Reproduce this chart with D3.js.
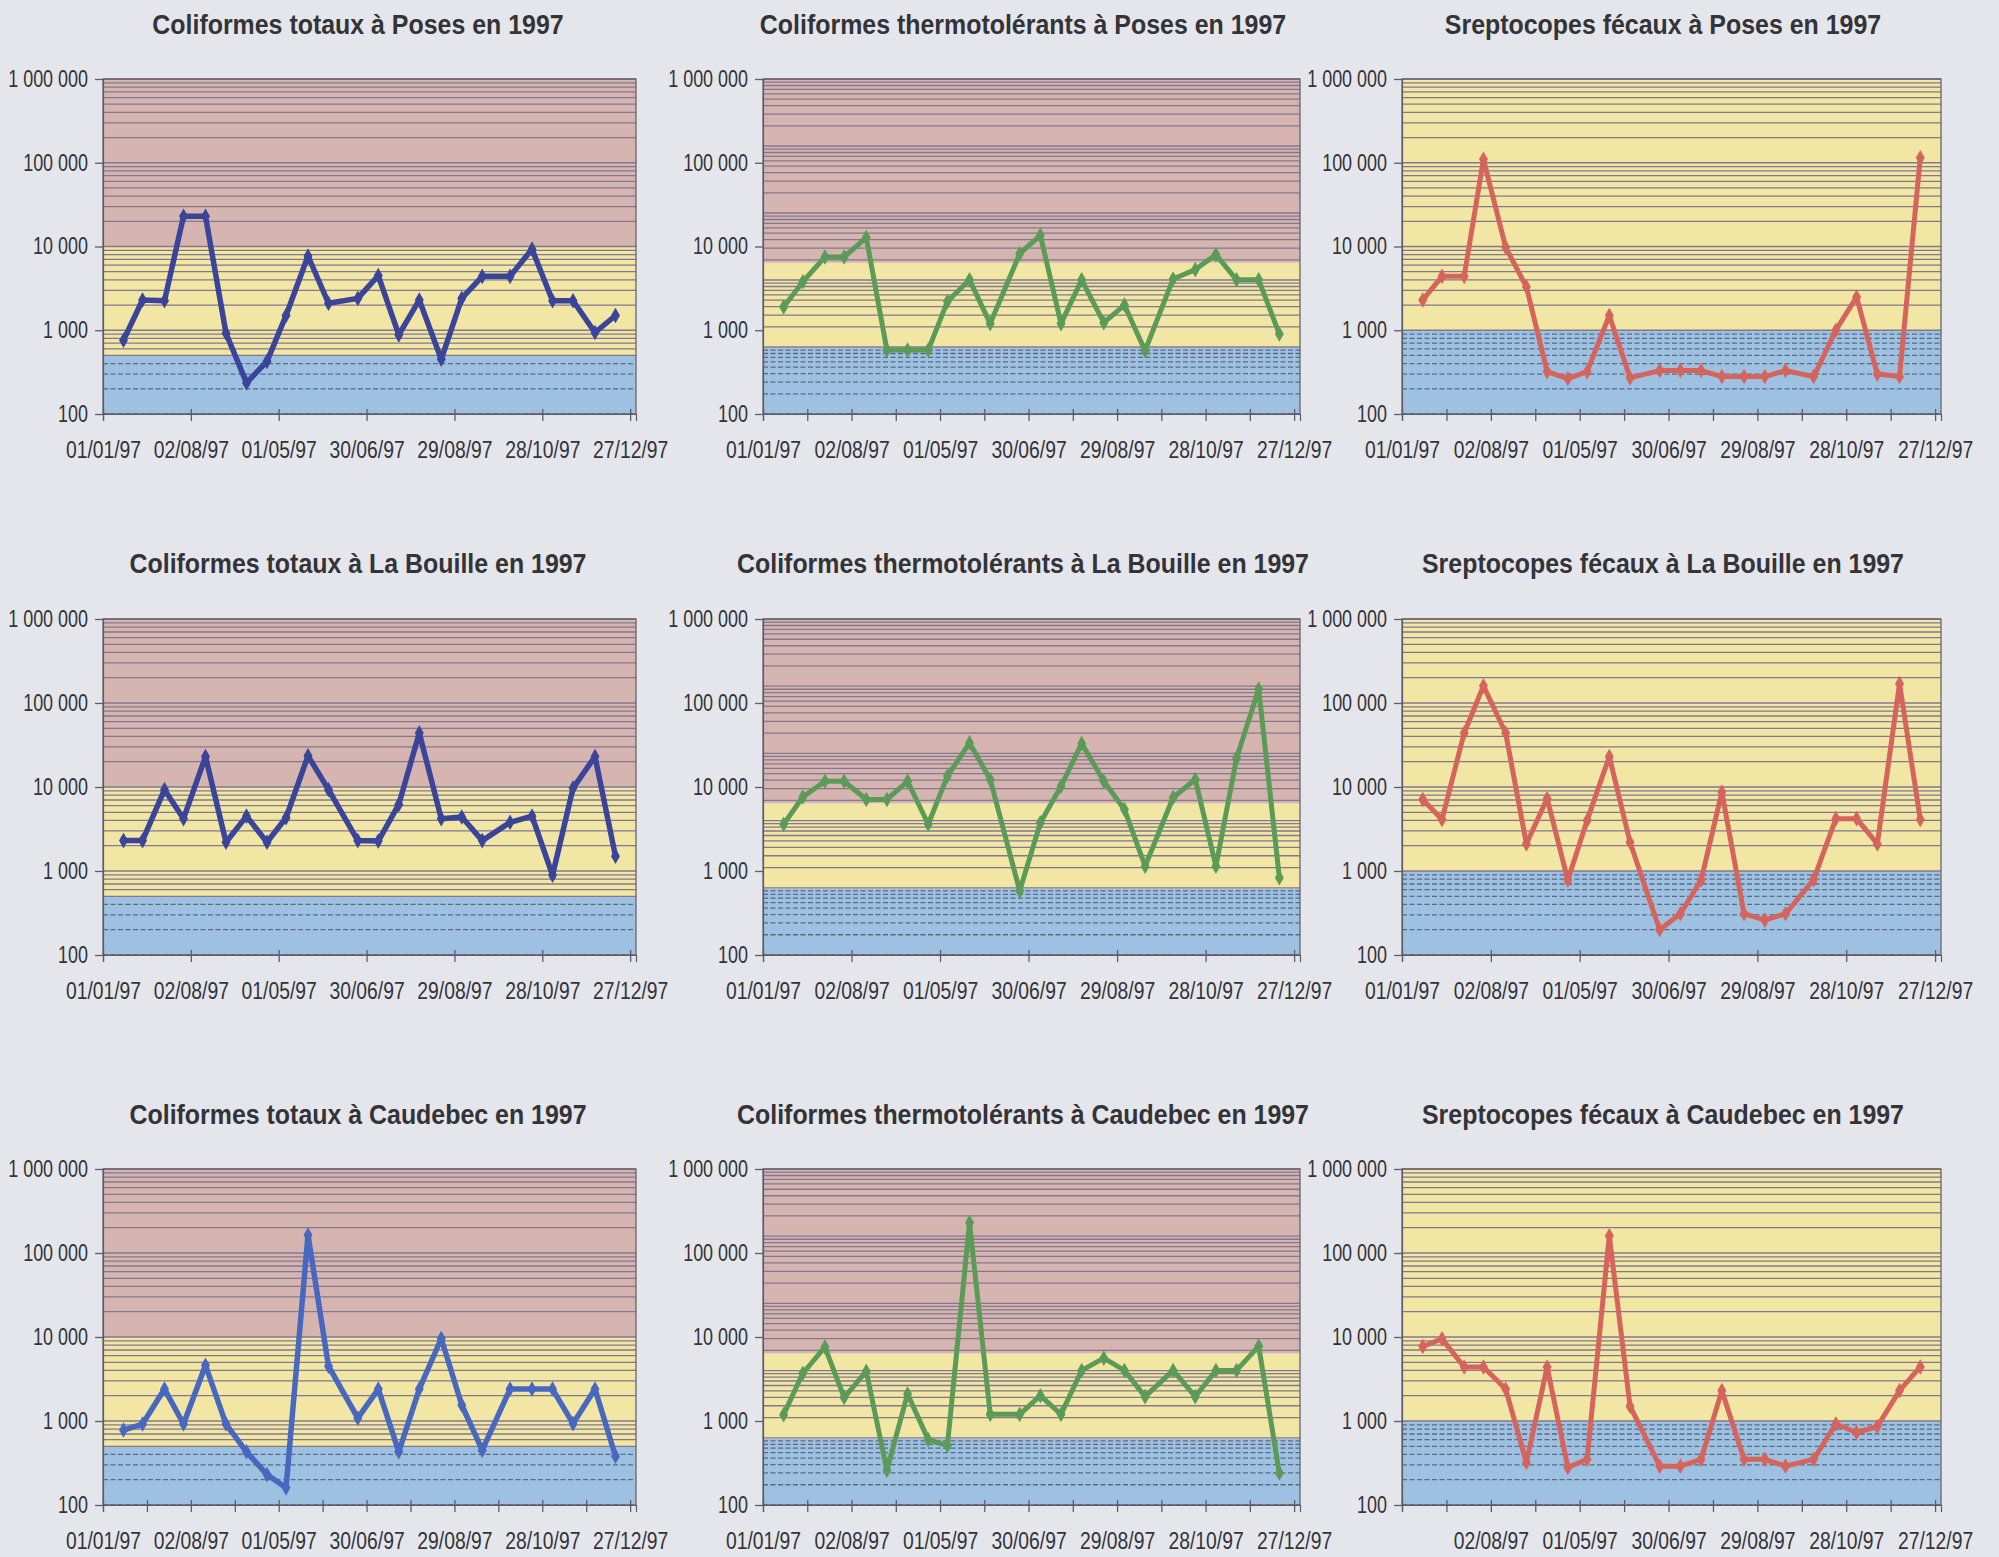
<!DOCTYPE html>
<html>
<head>
<meta charset="utf-8">
<script src="https://cdn.jsdelivr.net/npm/d3@7"></script>
<style>
  html, body { margin: 0; padding: 0; background: #e4e6eb; }
  svg { display: block; }
</style>
</head>
<body>
<svg id="chart" width="1999" height="1557"></svg>
<script>
// ---- Data -------------------------------------------------------------
// Sampling dates in 1997 (same campaign for the three stations)
const sampleDates = ["1997-01-15","1997-01-28","1997-02-12","1997-02-25","1997-03-12","1997-03-26",
  "1997-04-09","1997-04-23","1997-05-06","1997-05-21","1997-06-04","1997-06-24",
  "1997-07-08","1997-07-22","1997-08-05","1997-08-20","1997-09-03","1997-09-17",
  "1997-10-06","1997-10-21","1997-11-04","1997-11-18","1997-12-03","1997-12-17"];

// Counts per 100 ml
const posesTotaux      = [760, 2300, 2250, 23000, 23000, 920, 235, 425, 1500, 7700, 2100, 2400, 4500, 880, 2300, 450, 2400, 4400, 4400, 9300, 2250, 2250, 940, 1500];
const posesThermo      = [1900, 3800, 7500, 7500, 12800, 580, 580, 580, 2200, 4000, 1200, 8200, 13600, 1200, 4000, 1230, 2000, 570, 4100, 5300, 8000, 4000, 4000, 900];
const posesStrep       = [2300, 4400, 4400, 110000, 9800, 3300, 320, 265, 320, 1500, 270, 330, 330, 330, 280, 280, 280, 330, 280, 1000, 2500, 300, 280, 115000];
const bouilleTotaux    = [2300, 2300, 9300, 4200, 23000, 2200, 4500, 2200, 4300, 23500, 9300, 2300, 2270, 6200, 44000, 4200, 4400, 2300, 3800, 4500, 890, 9700, 23000, 1500];
const bouilleThermo    = [3600, 7600, 11700, 11700, 7100, 7100, 11700, 3600, 13500, 33500, 12300, 580, 3750, 10200, 33000, 11700, 5400, 1140, 7500, 12300, 1140, 22000, 147000, 830];
const bouilleStrep     = [7100, 4100, 44000, 160000, 44000, 2100, 7300, 780, 4000, 23000, 2200, 200, 310, 780, 8700, 310, 260, 310, 790, 4200, 4200, 2100, 170000, 4100];
const caudebecTotaux   = [780, 920, 2400, 920, 4600, 920, 430, 230, 160, 164000, 4500, 1080, 2400, 430, 2400, 9600, 1550, 450, 2400, 2400, 2400, 930, 2400, 380];
const caudebecThermo   = [1190, 3700, 7600, 1900, 3900, 260, 2100, 600, 510, 230000, 1200, 1200, 2000, 1200, 4000, 5600, 4000, 1950, 4000, 1950, 4000, 4000, 7800, 240];
const caudebecStrep    = [7700, 9500, 4400, 4400, 2400, 320, 4400, 280, 350, 160000, 1500, 290, 290, 350, 2300, 350, 350, 290, 350, 920, 730, 860, 2300, 4400];

// Quality thresholds delimiting the background bands
const limitsTotaux = [500, 10000];
const limitsThermo = [620, 6400];
const limitsStrep  = [1000];

// Axis ticks
const yTickValues   = [100, 1000, 10000, 100000, 1000000];
const xTickDates    = ["1997-01-01","1997-03-02","1997-05-01","1997-06-30","1997-08-29","1997-10-28","1997-12-27"];
const xTickLabels   = ["01/01/97","02/08/97","01/05/97","30/06/97","29/08/97","28/10/97","27/12/97"];
const xMinorDates   = ["1997-01-31","1997-04-01","1997-05-31","1997-07-30","1997-09-28","1997-11-27"];

const titles = [
  "Coliformes totaux à Poses en 1997", "Coliformes thermotolérants à Poses en 1997", "Sreptocopes fécaux à Poses en 1997",
  "Coliformes totaux à La Bouille en 1997", "Coliformes thermotolérants à La Bouille en 1997", "Sreptocopes fécaux à La Bouille en 1997",
  "Coliformes totaux à Caudebec en 1997", "Coliformes thermotolérants à Caudebec en 1997", "Sreptocopes fécaux à Caudebec en 1997"
];
const seriesList = [posesTotaux, posesThermo, posesStrep, bouilleTotaux, bouilleThermo, bouilleStrep, caudebecTotaux, caudebecThermo, caudebecStrep];
const kinds = ["totaux","thermo","strep","totaux","thermo","strep","totaux","thermo","strep"];

// ---- Layout & styling ---------------------------------------------------
const cols = [
  {left: 103, right: 636, titleX: 358},
  {left: 763, right: 1300, titleX: 1023},
  {left: 1402, right: 1941, titleX: 1663}
];
const rows = [
  {top: 79, bottom: 414, titleY: 34},
  {top: 619, bottom: 955, titleY: 573},
  {top: 1169, bottom: 1505, titleY: 1124}
];

const lineColors = ["#3a4599","#5c9a58","#d5645c","#3a4599","#5c9a58","#d5645c","#4868c0","#5c9a58","#d5645c"];
const minorTicks = [false, true, true, false, false, false, true, true, true];
const showFirstLabel = [true, true, true, true, true, true, true, true, false];

const bandColors = {blue: "#9fc1e1", yellow: "#f1e6a3", pink: "#d6b5b0"};
const kindSettings = {
  totaux: {limits: limitsTotaux, colors: [bandColors.blue, bandColors.yellow, bandColors.pink], grid: [100, 1e6]},
  thermo: {limits: limitsThermo, colors: [bandColors.blue, bandColors.yellow, bandColors.pink], grid: [1, 1e5]},
  strep:  {limits: limitsStrep,  colors: [bandColors.blue, bandColors.yellow], grid: [100, 1e6]}
};

const parse = d3.utcParse("%Y-%m-%d");
const frLocale = d3.formatLocale({decimal: ",", thousands: "\u00a0", grouping: [3], currency: ["", " €"]});
const yFormat = frLocale.format(",d");

const FONT = "'Liberation Sans', Arial, sans-serif";
const TEXT_COLOR = "#333338";

const svg = d3.select("#chart");

function condense(sel, factor) {
  sel.each(function () {
    const w = this.getComputedTextLength();
    if (w > 0) d3.select(this).attr("textLength", w * factor).attr("lengthAdjust", "spacingAndGlyphs");
  });
}

seriesList.forEach((values, i) => {
  const col = cols[i % 3], row = rows[Math.floor(i / 3)];
  const kind = kindSettings[kinds[i]];
  const g = svg.append("g");

  const x = d3.scaleUtc()
    .domain([parse("1997-01-01"), parse("1997-12-31")])
    .range([col.left, col.right]);
  const y = d3.scaleLog().domain([100, 1e6]).range([row.bottom, row.top]);
  const gridScale = d3.scaleLog().domain(kind.grid).range([row.bottom, row.top]);

  // background bands
  const edges = [100, ...kind.limits, 1e6];
  kind.colors.forEach((c, k) => {
    g.append("rect")
      .attr("x", col.left).attr("width", col.right - col.left)
      .attr("y", y(edges[k + 1])).attr("height", y(edges[k]) - y(edges[k + 1]))
      .attr("fill", c);
  });

  // horizontal log gridlines
  const blueTop = y(kind.limits[0]);
  const gridValues = [];
  const e0 = Math.round(Math.log10(kind.grid[0])), e1 = Math.round(Math.log10(kind.grid[1]));
  for (let e = e0; e < e1; e++) for (let k = 1; k <= 9; k++) gridValues.push(k * Math.pow(10, e));
  gridValues.push(kind.grid[1]);
  g.append("g").selectAll("line").data(gridValues).join("line")
    .attr("x1", col.left).attr("x2", col.right)
    .attr("y1", d => gridScale(d)).attr("y2", d => gridScale(d))
    .attr("stroke", d => gridScale(d) > blueTop + 0.5 ? "#5a6a84" : "#827890")
    .attr("stroke-width", 1.3)
    .attr("stroke-dasharray", d => gridScale(d) > blueTop + 0.5 ? "5,2.5" : null);

  // plot frame
  g.append("rect")
    .attr("x", col.left).attr("y", row.top)
    .attr("width", col.right - col.left).attr("height", row.bottom - row.top)
    .attr("fill", "none").attr("stroke", "#5f5c68").attr("stroke-width", 1.2);

  // y axis
  const yAxis = g.append("g")
    .attr("transform", `translate(${col.left},0)`)
    .call(d3.axisLeft(y).tickValues(yTickValues).tickFormat(yFormat).tickSize(8).tickPadding(7));
  yAxis.select(".domain").attr("stroke", "#5f5c68").attr("stroke-width", 1.2);
  yAxis.selectAll(".tick line").attr("stroke", "#5f5c68").attr("stroke-width", 1.3);
  yAxis.selectAll("text").attr("font-family", FONT).attr("font-size", 23).attr("fill", TEXT_COLOR);
  condense(yAxis.selectAll("text"), 0.78);

  // x axis (major ticks with labels)
  const majorDates = xTickDates.map(parse);
  const xAxis = g.append("g")
    .attr("transform", `translate(0,${row.bottom})`)
    .call(d3.axisBottom(x).tickValues(majorDates)
      .tickFormat((d, k) => (k === 0 && !showFirstLabel[i]) ? "" : xTickLabels[k])
      .tickSize(7).tickPadding(21));
  xAxis.select(".domain").attr("stroke", "#5f5c68").attr("stroke-width", 1.2);
  xAxis.selectAll(".tick line").attr("y1", -5).attr("stroke", "#5f5c68").attr("stroke-width", 1.3);
  xAxis.selectAll("text").attr("font-family", FONT).attr("font-size", 23).attr("fill", TEXT_COLOR);
  condense(xAxis.selectAll("text"), 0.84);

  if (minorTicks[i]) {
    const minorAxis = g.append("g")
      .attr("transform", `translate(0,${row.bottom})`)
      .call(d3.axisBottom(x).tickValues(xMinorDates.map(parse)).tickFormat("").tickSize(7));
    minorAxis.select(".domain").remove();
    minorAxis.selectAll(".tick line").attr("y1", -5).attr("stroke", "#5f5c68").attr("stroke-width", 1.3);
  }

  // series line
  const pts = values.map((v, k) => ({date: parse(sampleDates[k]), value: v}));
  const line = d3.line().x(d => x(d.date)).y(d => y(d.value));
  g.append("path").datum(pts)
    .attr("d", line)
    .attr("fill", "none")
    .attr("stroke", lineColors[i])
    .attr("stroke-width", i % 3 === 0 ? 5.5 : 5)
    .attr("stroke-linejoin", "round")
    .attr("stroke-linecap", "round");

  g.append("g").selectAll("path").data(pts).join("path")
    .attr("d", d3.symbol(d3.symbolDiamond, 70))
    .attr("transform", d => `translate(${x(d.date)},${y(d.value)})`)
    .attr("fill", lineColors[i]);

  // title
  const t = g.append("text")
    .attr("x", col.titleX).attr("y", row.titleY)
    .attr("text-anchor", "middle")
    .attr("font-family", FONT).attr("font-weight", "bold").attr("font-size", 28)
    .attr("fill", TEXT_COLOR)
    .text(titles[i]);
  condense(t, 0.89);
});
</script>
</body>
</html>
